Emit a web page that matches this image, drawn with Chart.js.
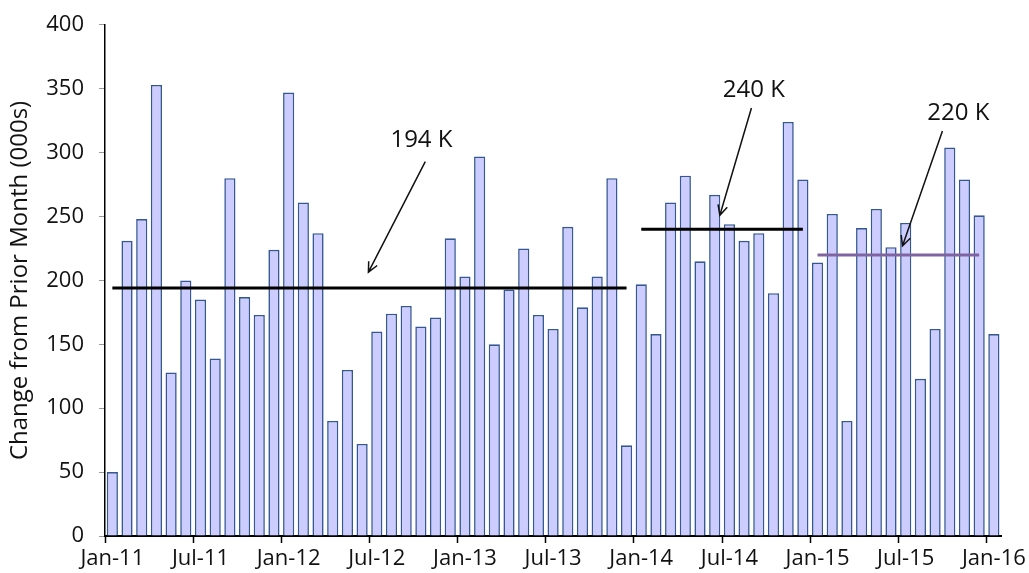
<!DOCTYPE html>
<html>
<head>
<meta charset="utf-8">
<script src="https://cdn.jsdelivr.net/npm/chart.js@4.4.1/dist/chart.umd.min.js"></script>
<style>
  html, body { margin: 0; padding: 0; background: #fff; }
  #wrap { width: 1029px; height: 573px; }
</style>
</head>
<body>
<div id="wrap"><canvas id="jobsChart" width="1029" height="573"></canvas></div>
<script>
// monthly payroll change, thousands
const months = [
  'Jan-11','Feb-11','Mar-11','Apr-11','May-11','Jun-11','Jul-11','Aug-11','Sep-11','Oct-11','Nov-11','Dec-11',
  'Jan-12','Feb-12','Mar-12','Apr-12','May-12','Jun-12','Jul-12','Aug-12','Sep-12','Oct-12','Nov-12','Dec-12',
  'Jan-13','Feb-13','Mar-13','Apr-13','May-13','Jun-13','Jul-13','Aug-13','Sep-13','Oct-13','Nov-13','Dec-13',
  'Jan-14','Feb-14','Mar-14','Apr-14','May-14','Jun-14','Jul-14','Aug-14','Sep-14','Oct-14','Nov-14','Dec-14',
  'Jan-15','Feb-15','Mar-15','Apr-15','May-15','Jun-15','Jul-15','Aug-15','Sep-15','Oct-15','Nov-15','Dec-15',
  'Jan-16'
];
const jobChange = [
  50, 231, 248, 353, 128, 200, 185, 139, 280, 187, 173, 224,
  347, 261, 237, 90, 130, 72, 160, 174, 180, 164, 171, 233,
  203, 297, 150, 193, 225, 173, 162, 242, 179, 203, 280, 71,
  197, 158, 261, 282, 215, 267, 244, 231, 237, 190, 324, 279,
  214, 252, 90, 241, 256, 226, 245, 123, 162, 304, 279, 251,
  158
];
const yTicks = [0, 50, 100, 150, 200, 250, 300, 350, 400];

// period averages
const avgValues = [194, 240, 220];
const avgStart = ['Jan-11', 'Jan-14', 'Jan-15'];
const avgEnd = ['Dec-13', 'Dec-14', 'Dec-15'];
const avgLabels = ['194 K', '240 K', '220 K'];
const avgColors = ['#000000', '#000000', '#8064A2'];

const FONT = "'Open Sans', sans-serif";

// callout text + arrow, in (month index, value) coordinates
const callouts = [
  { text: [21.04, 310], from: [21.3, 293], to: [17.43, 206.5] },
  { text: [43.66, 349], from: [43.5, 335], to: [41.35, 251] },
  { text: [57.58, 331], from: [56.5, 317], to: [53.78, 227] }
];

const calloutPlugin = {
  id: 'callouts',
  afterDatasetsDraw(chart) {
    const ctx = chart.ctx;
    const xs = chart.scales.x, ys = chart.scales.y;
    ctx.save();
    callouts.forEach((c, i) => {
      const tx = xs.getPixelForValue(c.text[0]), ty = ys.getPixelForValue(c.text[1]);
      ctx.fillStyle = '#111';
      ctx.font = '24px ' + FONT;
      ctx.textAlign = 'center';
      ctx.textBaseline = 'middle';
      ctx.fillText(avgLabels[i], tx, ty);

      const x1 = xs.getPixelForValue(c.from[0]), y1 = ys.getPixelForValue(c.from[1]);
      const x2 = xs.getPixelForValue(c.to[0]), y2 = ys.getPixelForValue(c.to[1]);
      ctx.strokeStyle = '#111';
      ctx.lineWidth = 1.5;
      ctx.beginPath();
      ctx.moveTo(x1, y1);
      ctx.lineTo(x2, y2);
      const ang = Math.atan2(y2 - y1, x2 - x1);
      const head = 11;
      ctx.moveTo(x2 - head * Math.cos(ang - 0.45), y2 - head * Math.sin(ang - 0.45));
      ctx.lineTo(x2, y2);
      ctx.lineTo(x2 - head * Math.cos(ang + 0.45), y2 - head * Math.sin(ang + 0.45));
      ctx.stroke();
    });
    ctx.restore();
  }
};

const datasets = [{
  type: 'bar',
  data: jobChange,
  backgroundColor: '#CCCCFF',
  borderColor: '#355894',
  borderWidth: 1.6,
  barPercentage: 0.76,
  categoryPercentage: 1.0,
  order: 2
}];
avgValues.forEach((v, i) => {
  datasets.push({
    type: 'line',
    data: [{ x: avgStart[i], y: v }, { x: avgEnd[i], y: v }],
    borderColor: avgColors[i],
    borderWidth: 3,
    pointRadius: 0,
    fill: false,
    order: 1
  });
});

new Chart(document.getElementById('jobsChart'), {
  type: 'bar',
  data: { labels: months, datasets: datasets },
  options: {
    responsive: false,
    animation: false,
    layout: { padding: { top: 10, right: 26, left: 0, bottom: 0 } },
    plugins: {
      legend: { display: false },
      tooltip: { enabled: false }
    },
    scales: {
      x: {
        type: 'category',
        offset: true,
        grid: {
          offset: true,
          drawOnChartArea: false,
          drawTicks: true,
          tickLength: 7,
          tickColor: c => (c.index % 6 === 0 ? '#000' : 'rgba(0,0,0,0)'),
          tickWidth: 1.5
        },
        border: { color: '#000', width: 2 },
        ticks: {
          autoSkip: false,
          maxRotation: 0,
          minRotation: 0,
          padding: 3,
          color: '#111',
          font: { family: FONT, size: 22 },
          callback: (v, i) => (i % 6 === 0 ? months[i] : '')
        },
        afterFit: s => { s.height = 37; }
      },
      y: {
        min: 0,
        max: 400,
        afterBuildTicks: s => { s.ticks = yTicks.map(v => ({ value: v })); },
        grid: {
          drawOnChartArea: false,
          drawTicks: true,
          tickLength: 6,
          tickColor: '#999'
        },
        border: { color: '#000', width: 1.5 },
        ticks: {
          padding: 15,
          color: '#111',
          font: { family: FONT, size: 22, lineHeight: 0.9 }
        },
        title: {
          display: true,
          text: 'Change from Prior Month (000s)',
          color: '#111',
          font: { family: FONT, size: 24 },
          padding: { top: 6, bottom: 0 }
        },
        afterFit: s => { s.width = 105; }
      }
    }
  },
  plugins: [calloutPlugin]
});
</script>
</body>
</html>
